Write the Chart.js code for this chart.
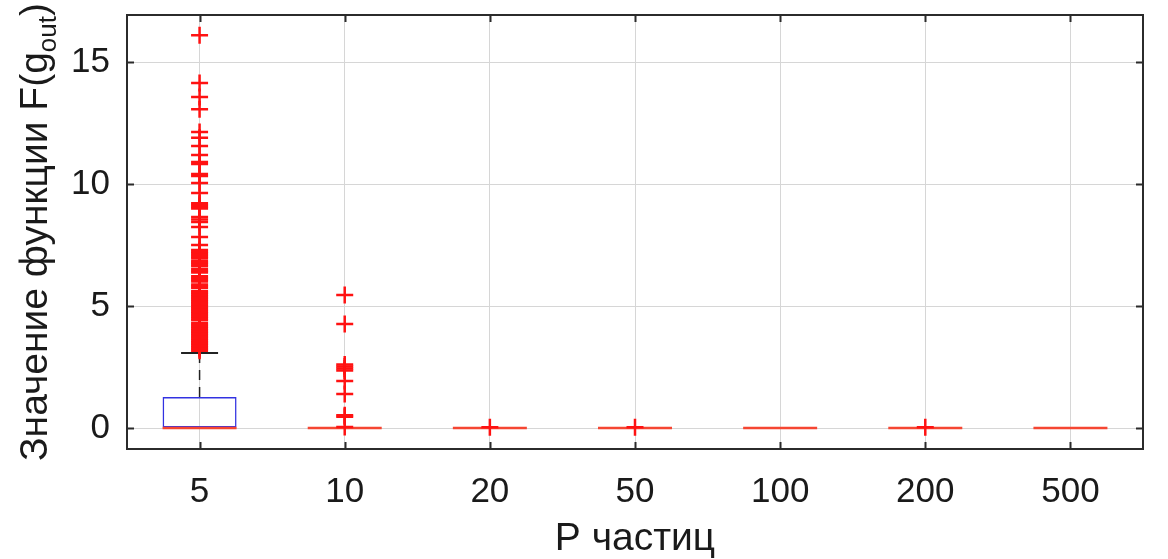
<!DOCTYPE html>
<html lang="ru">
<head>
<meta charset="utf-8">
<title>Значение функции F(g_out) — P частиц</title>
<script src="https://cdn.jsdelivr.net/npm/chart.js@4.4.1/dist/chart.umd.min.js"></script>
<style>
  html, body { margin: 0; padding: 0; background: #fff; }
  #wrap { width: 1168px; height: 559px; }
</style>
</head>
<body>
<div id="wrap"><canvas id="boxChart" width="1168" height="559"></canvas></div>
<script>
// Число частиц P (категории по оси X)
const particleCounts = ['5', '10', '20', '50', '100', '200', '500'];

// Статистика ящиков: квартили, медиана, усы
const q1Values     = [0, 0, 0, 0, 0, 0, 0];
const medianValues = [0, 0, 0, 0, 0, 0, 0];
const q3Values     = [1.27, 0, 0, 0, 0, 0, 0];
const whiskerLow   = [0, 0, 0, 0, 0, 0, 0];
const whiskerHigh  = [3.07, 0, 0, 0, 0, 0, 0];

// Выбросы для каждого P
const outliers5 = [
    16.1, 14.14, 13.57, 13.07, 12.13, 11.9, 11.56, 11.19, 10.82, 10.9,
    10.33, 10.41, 10.04, 9.63, 9.0, 9.07, 9.14, 9.21, 8.45, 8.55, 8.65,
    8.24, 7.83, 7.5,
    7.3, 7.23, 7.16, 7.09, 7.02, 6.95, 6.84, 6.77, 6.7, 6.63, 6.51, 6.44, 6.37,
    6.22, 6.15, 6.08, 6.01, 5.88, 5.81, 5.74, 5.61, 5.54, 5.47, 5.4, 5.33,
    5.26, 5.19, 5.12, 5.05, 4.98, 4.91, 4.84, 4.77, 4.7, 4.63, 4.56, 4.49, 4.42,
    4.29, 4.22, 4.15, 4.08, 4.01, 3.94, 3.87, 3.8, 3.73, 3.66, 3.59, 3.52,
    3.45, 3.38, 3.31, 3.24, 3.17
];
const outliers10 = [5.45, 4.26, 2.36, 2.44, 2.52, 2.6, 1.93, 1.39, 0.46, 0.52, 0.04];
const outliers20 = [0.03];
const outliers50 = [0.03];
const outliers100 = [];
const outliers200 = [0.03];
const outliers500 = [];
const outlierGroups = [outliers5, outliers10, outliers20, outliers50, outliers100, outliers200, outliers500];

// Деления оси Y и её пределы
const yTickValues = [0, 5, 10, 15];
const yMin = -0.86;
const yMax = 16.93;

const fontFamily = '"Liberation Sans", Arial, Helvetica, sans-serif';

document.addEventListener('DOMContentLoaded', function() {
    // Точки выбросов
    const outlierPoints = [];
    outlierGroups.forEach(function(group, i) {
        group.forEach(function(v) {
            outlierPoints.push({ x: particleCounts[i], y: v });
        });
    });

    // Усы: вертикальные отрезки от квартилей до концов усов
    const whiskerPoints = [];
    particleCounts.forEach(function(p, i) {
        whiskerPoints.push({ x: p, y: q3Values[i] }, { x: p, y: whiskerHigh[i] }, { x: p, y: null });
        whiskerPoints.push({ x: p, y: q1Values[i] }, { x: p, y: whiskerLow[i] }, { x: p, y: null });
    });

    // Поперечины на концах усов
    const capPoints = [];
    particleCounts.forEach(function(p, i) {
        capPoints.push({ x: p, y: whiskerHigh[i] }, { x: p, y: whiskerLow[i] });
    });

    const medianPoints = particleCounts.map(function(p, i) { return { x: p, y: medianValues[i] }; });
    const boxRanges = particleCounts.map(function(p, i) { return [q1Values[i], q3Values[i]]; });

    // Рамка осей с делениями внутрь и подпись оси Y с индексом
    const axesFrame = {
        id: 'axesFrame',
        afterDraw(chart) {
            const ctx = chart.ctx;
            const area = chart.chartArea;
            const xs = chart.scales.x;
            const ys = chart.scales.y;
            const tick = 7;
            ctx.save();
            ctx.strokeStyle = '#2b2b2b';
            ctx.lineWidth = 2;
            ctx.beginPath();
            particleCounts.forEach(function(p, i) {
                const px = Math.round(xs.getPixelForValue(i)) + 0.5;
                ctx.moveTo(px, area.bottom); ctx.lineTo(px, area.bottom - tick);
                ctx.moveTo(px, area.top); ctx.lineTo(px, area.top + tick);
            });
            yTickValues.forEach(function(v) {
                const py = Math.round(ys.getPixelForValue(v)) + 0.5;
                ctx.moveTo(area.left, py); ctx.lineTo(area.left + tick, py);
                ctx.moveTo(area.right, py); ctx.lineTo(area.right - tick, py);
            });
            ctx.stroke();
            ctx.strokeRect(area.left, area.top, area.right - area.left, area.bottom - area.top);

            // Подпись оси Y: Значение функции F(g_out)
            const main = 'Значение функции F(g';
            const sub = 'out';
            const tail = ')';
            const bigFont = '39px ' + fontFamily;
            const smallFont = '26px ' + fontFamily;
            ctx.font = bigFont;
            const wMain = ctx.measureText(main).width;
            const wTail = ctx.measureText(tail).width;
            ctx.font = smallFont;
            const wSub = ctx.measureText(sub).width;
            const total = wMain + wSub + wTail;
            ctx.translate(47, (area.top + area.bottom) / 2);
            ctx.rotate(-Math.PI / 2);
            ctx.fillStyle = '#1a1a1a';
            ctx.textBaseline = 'alphabetic';
            ctx.textAlign = 'left';
            let cx = -total / 2;
            ctx.font = bigFont;
            ctx.fillText(main, cx, 0);
            cx += wMain;
            ctx.font = smallFont;
            ctx.fillText(sub, cx, 9);
            cx += wSub;
            ctx.font = bigFont;
            ctx.fillText(tail, cx, 0);
            ctx.restore();
        }
    };

    const ctxBox = document.getElementById('boxChart').getContext('2d');
    const boxChart = new Chart(ctxBox, {
        type: 'bar',
        data: {
            labels: particleCounts,
            datasets: [
                {
                    // Выбросы
                    type: 'line',
                    data: outlierPoints,
                    showLine: false,
                    pointStyle: 'cross',
                    pointRadius: 8.5,
                    pointBorderWidth: 2.5,
                    borderColor: 'rgb(255, 18, 18)',
                    backgroundColor: 'rgb(255, 18, 18)',
                    order: 0
                },
                {
                    // Медианы
                    type: 'line',
                    data: medianPoints,
                    showLine: false,
                    pointStyle: 'line',
                    pointRadius: 37,
                    pointBorderWidth: 2.5,
                    borderColor: 'rgb(245, 70, 50)',
                    order: 1
                },
                {
                    // Ящики (от Q1 до Q3)
                    data: boxRanges,
                    backgroundColor: 'rgba(0, 0, 0, 0)',
                    borderColor: 'rgb(50, 50, 225)',
                    borderWidth: 1.5,
                    borderSkipped: false,
                    barPercentage: 0.51,
                    categoryPercentage: 1,
                    order: 2
                },
                {
                    // Поперечины усов
                    type: 'line',
                    data: capPoints,
                    showLine: false,
                    pointStyle: 'line',
                    pointRadius: 18.5,
                    pointBorderWidth: 2,
                    borderColor: '#222',
                    order: 3
                },
                {
                    // Усы (пунктир)
                    type: 'line',
                    data: whiskerPoints,
                    borderColor: '#222',
                    borderWidth: 1.5,
                    borderDash: [10, 7],
                    pointRadius: 0,
                    spanGaps: false,
                    order: 4
                }
            ]
        },
        options: {
            responsive: false,
            animation: false,
            layout: { autoPadding: false, padding: { left: 0, right: 25, top: 15, bottom: 0 } },
            plugins: {
                legend: { display: false },
                tooltip: { enabled: false }
            },
            scales: {
                x: {
                    offset: true,
                    grid: { offset: false, color: '#d6d6d6', lineWidth: 1, drawTicks: false },
                    border: { display: false },
                    ticks: { color: '#1a1a1a', padding: 22, font: { family: fontFamily, size: 35 } },
                    title: {
                        display: true,
                        text: 'Р частиц',
                        color: '#1a1a1a',
                        font: { family: fontFamily, size: 39, lineHeight: 1.0 },
                        padding: { top: 0, bottom: 0 }
                    },
                    afterFit: function(scale) {
                        scale.height = 110;
                        scale.paddingLeft = 0;
                        scale.paddingRight = 0;
                    }
                },
                y: {
                    min: yMin,
                    max: yMax,
                    grid: { color: '#d6d6d6', lineWidth: 1, drawTicks: false },
                    border: { display: false },
                    ticks: { color: '#1a1a1a', padding: 17, font: { family: fontFamily, size: 35 } },
                    afterBuildTicks: function(scale) {
                        scale.ticks = yTickValues.map(function(v) { return { value: v }; });
                    },
                    afterFit: function(scale) {
                        scale.width = 127;
                        scale.paddingTop = 0;
                        scale.paddingBottom = 0;
                    }
                }
            }
        },
        plugins: [axesFrame]
    });
});
</script>
</body>
</html>
